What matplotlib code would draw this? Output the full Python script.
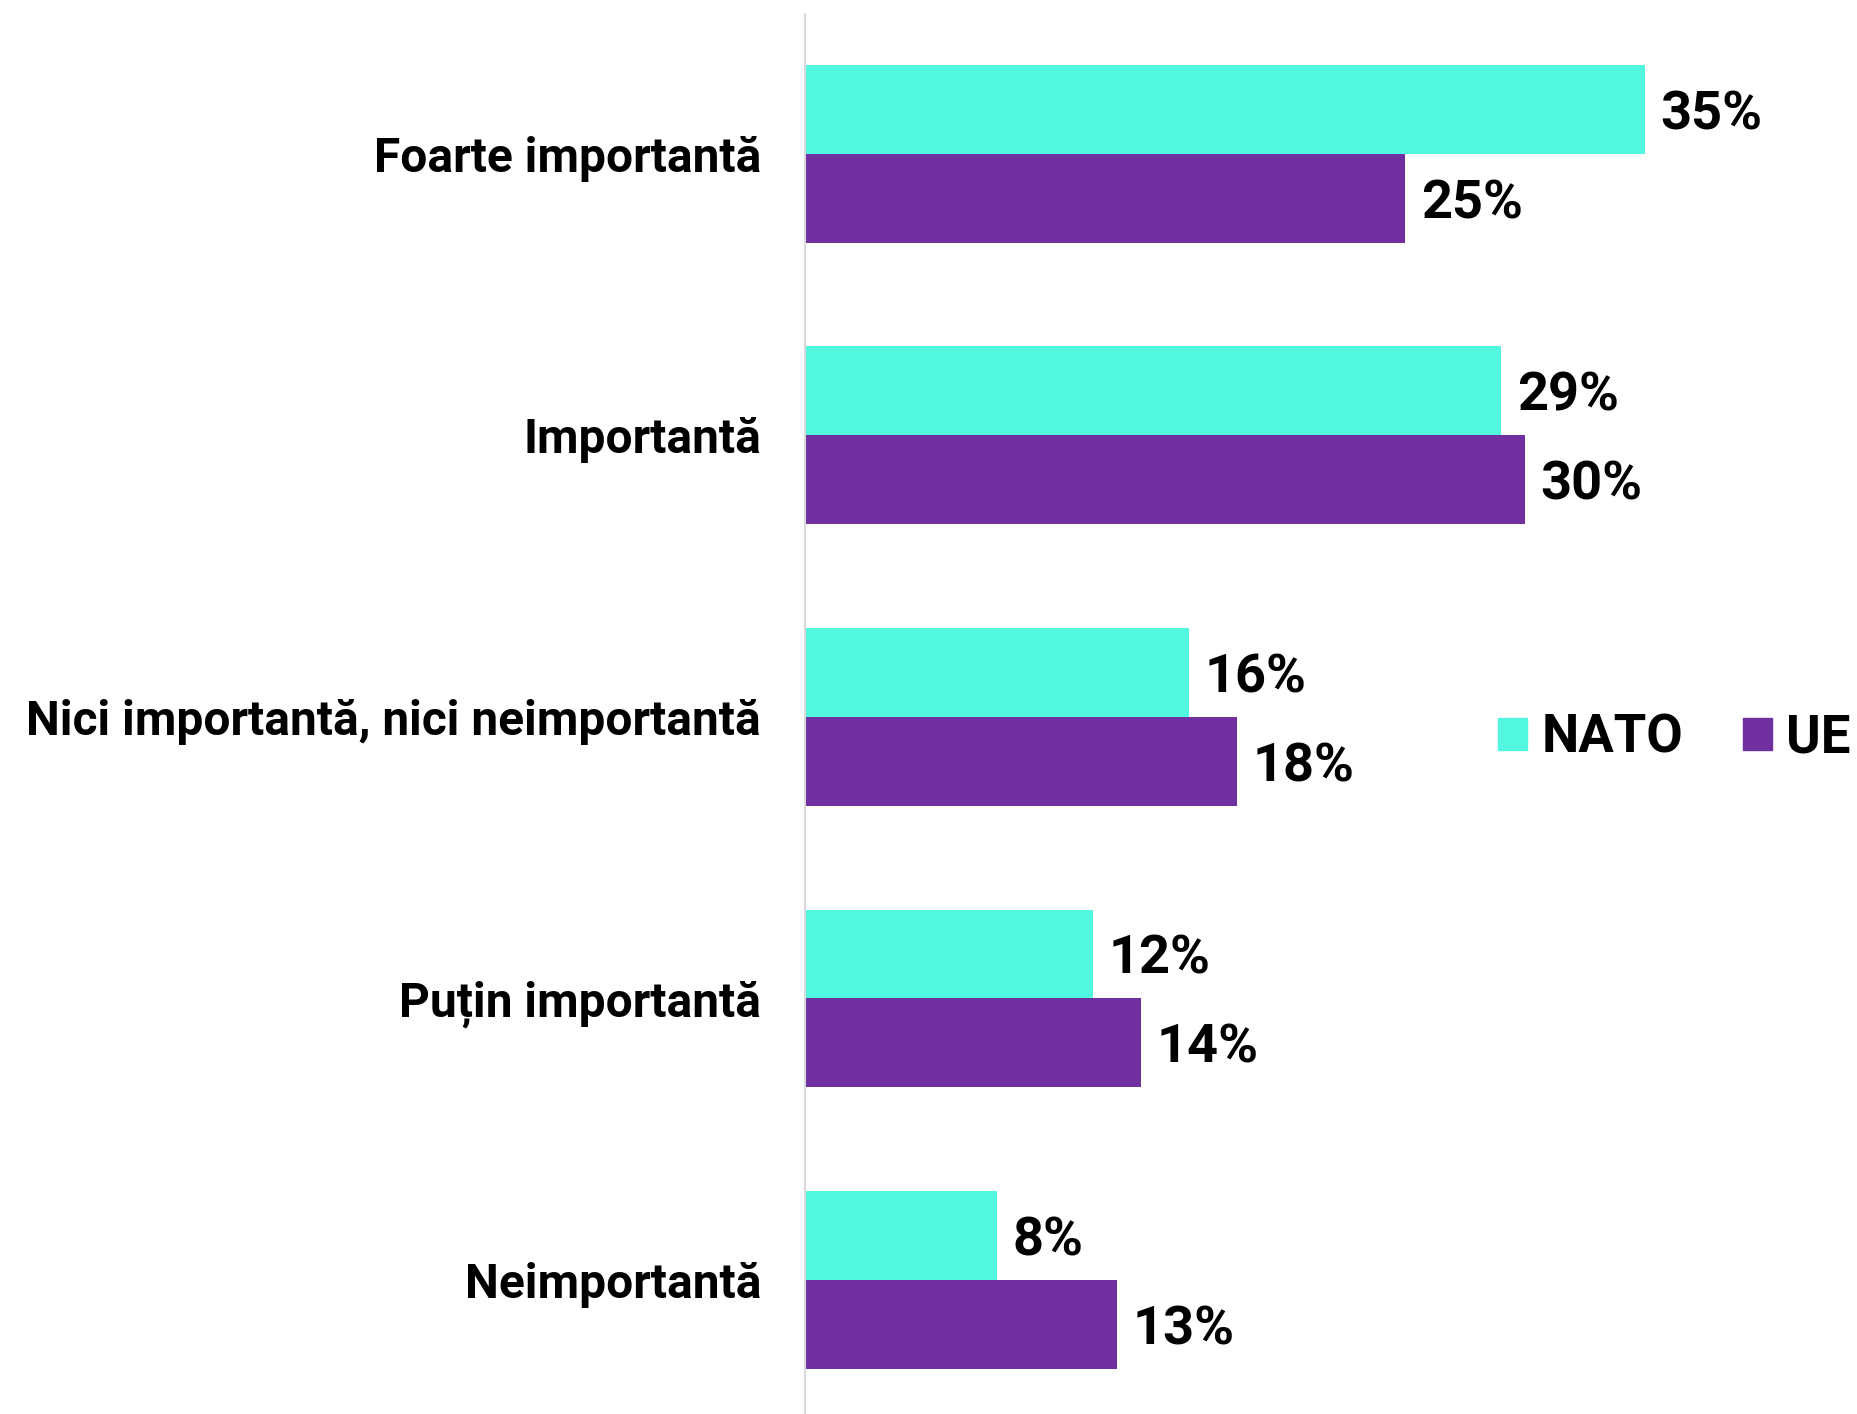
import matplotlib.pyplot as plt
from matplotlib.patches import Patch

plt.rcParams['font.family'] = ['Roboto', 'DejaVu Sans']

categorii = ["Foarte importantă", "Importantă", "Nici importantă, nici neimportantă",
             "Puțin importantă", "Neimportantă"]
nato = [35, 29, 16, 12, 8]
ue = [25, 30, 18, 14, 13]

cor_nato = "#52F7E0"
cor_ue = "#7030A0"

fig = plt.figure(figsize=(18.57, 14.14), dpi=100)
ax = fig.add_axes([805 / 1857, 0, 1 - 805 / 1857, 1 - 14 / 1414])

h = 0.316
pos = list(range(len(categorii)))
ax.barh([p - h / 2 for p in pos], nato, height=h, color=cor_nato)
ax.barh([p + h / 2 for p in pos], ue, height=h, color=cor_ue)

for i in pos:
    ax.text(nato[i] + 0.65, i - h / 2, f"{nato[i]}%", va="center_baseline", ha="left",
            fontsize=39, fontweight="bold")
    ax.text(ue[i] + 0.65, i + h / 2, f"{ue[i]}%", va="center_baseline", ha="left",
            fontsize=39, fontweight="bold")

ax.set_xlim(0, 43.83)
ax.set_ylim(4.476, -0.497)
ax.set_yticks(pos)
ax.set_yticklabels(categorii, fontsize=34.5, fontweight="bold")
ax.tick_params(axis="y", length=0, pad=31.5)
ax.set_xticks([])
for s in ["top", "right", "bottom"]:
    ax.spines[s].set_visible(False)
ax.spines["left"].set_color("#d9d9d9")
ax.spines["left"].set_linewidth(1.5)

handles = [Patch(color=cor_nato, label="NATO"), Patch(color=cor_ue, label="UE")]
fig.legend(handles=handles, loc="center left", bbox_to_anchor=(1498 / 1857, 1 - 738 / 1414),
           ncol=2, frameon=False, prop={"size": 38, "weight": "bold"},
           handlelength=0.55, handleheight=0.55, handletextpad=0.28,
           columnspacing=1.12, borderpad=0, borderaxespad=0)

fig.savefig("out.png", dpi=100)
